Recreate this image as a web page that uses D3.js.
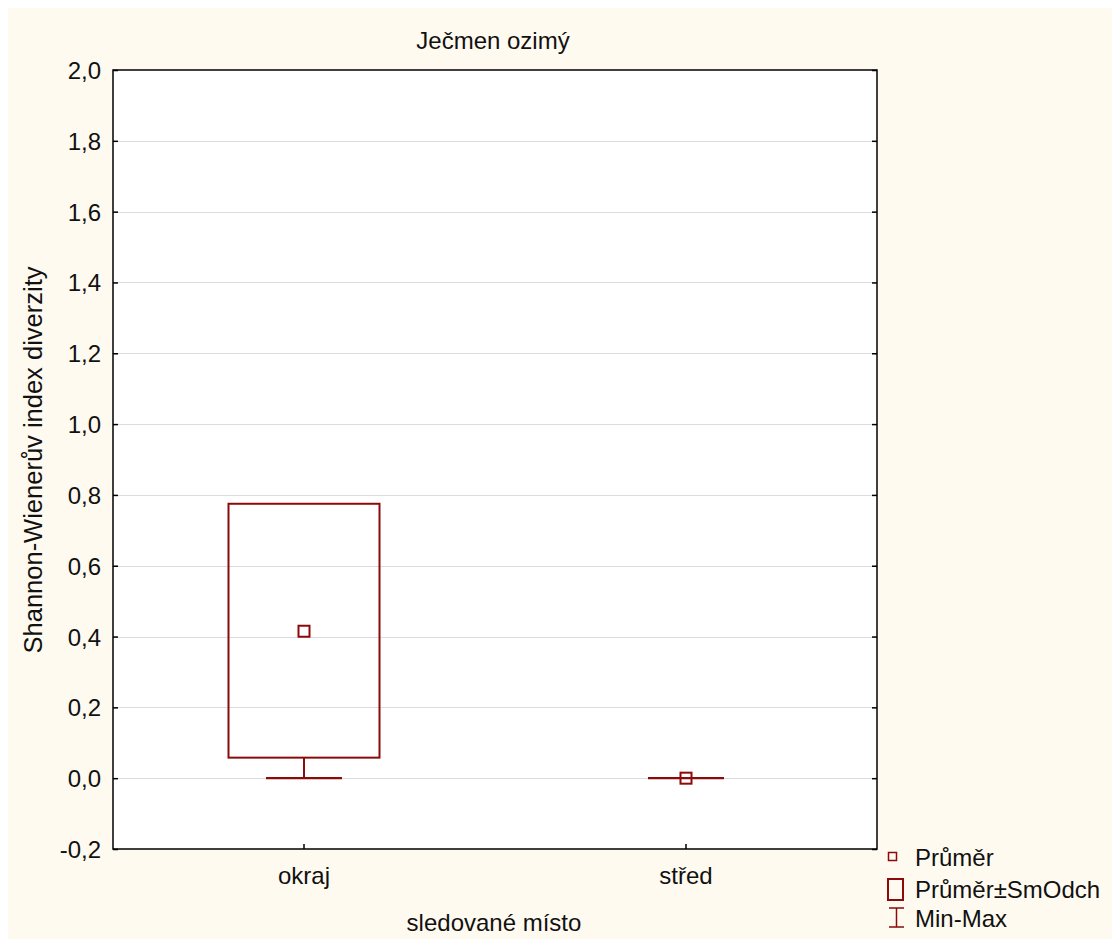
<!DOCTYPE html>
<html>
<head>
<meta charset="utf-8">
<script src="https://cdn.jsdelivr.net/npm/d3@7"></script>
<style>
  body { margin: 0; background: #fff; }
  text { font-family: "Liberation Sans", Arial, sans-serif; fill: #111; }
</style>
</head>
<body>
<div id="chart"></div>
<script>
// data
const categories = ['okraj', 'střed']
const means = [0.415, 0.0]
const sdLow = [0.058, 0.0]
const sdHigh = [0.775, 0.0]
const mins = [0.0, 0.0]
const maxs = [0.70, 0.0]
const yTicks = [-0.2, 0, 0.2, 0.4, 0.6, 0.8, 1.0, 1.2, 1.4, 1.6, 1.8, 2.0]
const legendItems = ['Průměr', 'Průměr±SmOdch', 'Min-Max']

const W = 1112, H = 939
const pLeft = 113, pRight = 877, pTop = 70, pBottom = 849
const col = '#8b0a0a'
const fs = 24

const svg = d3.select('#chart').append('svg')
  .attr('width', W).attr('height', H)

// pozadí
svg.append('rect').attr('x', 8).attr('y', 8).attr('width', W - 8).attr('height', H - 8)
  .attr('fill', '#fffaf0')
svg.append('rect').attr('x', pLeft).attr('y', pTop).attr('width', pRight - pLeft).attr('height', pBottom - pTop)
  .attr('fill', '#fff')

const x = d3.scaleBand().domain(categories).range([pLeft, pRight])
const y = d3.scaleLinear().domain([-0.2, 2.0]).range([pBottom, pTop])

// mřížka
svg.append('g').selectAll('line').data(yTicks.slice(1, -1)).join('line')
  .attr('x1', pLeft).attr('x2', pRight)
  .attr('y1', d => Math.round(y(d)) + 0.5).attr('y2', d => Math.round(y(d)) + 0.5)
  .attr('stroke', '#dcdcdc').attr('stroke-width', 1)

const fmt = d => d3.format('.1f')(d).replace('.', ',').replace('−', '-')

// osy
const yAxis = svg.append('g').attr('transform', `translate(${pLeft},0)`)
  .call(d3.axisRight(y).tickValues(yTicks).tickSize(5).tickFormat(''))
yAxis.select('.domain').remove()
yAxis.selectAll('line').attr('stroke', '#000').attr('stroke-width', 1.5)
svg.append('g').selectAll('text').data(yTicks).join('text')
  .attr('x', 101).attr('y', d => y(d) + 9)
  .attr('text-anchor', 'end').attr('font-size', fs)
  .text(fmt)

const yAxisR = svg.append('g').attr('transform', `translate(${pRight},0)`)
  .call(d3.axisLeft(y).tickValues(yTicks).tickSize(5).tickFormat(''))
yAxisR.select('.domain').remove()
yAxisR.selectAll('line').attr('stroke', '#000').attr('stroke-width', 1.5)

const xAxis = svg.append('g').attr('transform', `translate(0,${pBottom})`)
  .call(d3.axisTop(x).tickSize(5).tickFormat(''))
xAxis.select('.domain').remove()
xAxis.selectAll('line').attr('stroke', '#000').attr('stroke-width', 1.5)
svg.append('g').selectAll('text').data(categories).join('text')
  .attr('x', d => x(d) + x.bandwidth() / 2).attr('y', 884)
  .attr('text-anchor', 'middle').attr('font-size', fs)
  .text(d => d)

svg.append('rect').attr('x', pLeft).attr('y', pTop).attr('width', pRight - pLeft).attr('height', pBottom - pTop)
  .attr('fill', 'none').attr('stroke', '#000').attr('stroke-width', 1.5)

// krabice
const boxW = 151, capW = 76
categories.forEach((c, i) => {
  const cx = x(c) + x.bandwidth() / 2
  const g = svg.append('g').attr('stroke', col).attr('fill', 'none').attr('stroke-width', 2)
  if (sdHigh[i] > sdLow[i]) {
    g.append('rect').attr('x', cx - boxW / 2).attr('y', y(sdHigh[i]))
      .attr('width', boxW).attr('height', y(sdLow[i]) - y(sdHigh[i]))
  }
  // whisker dolu
  if (mins[i] < sdLow[i]) {
    g.append('line').attr('x1', cx).attr('x2', cx).attr('y1', y(sdLow[i])).attr('y2', y(mins[i]))
  }
  if (maxs[i] > sdHigh[i]) {
    g.append('line').attr('x1', cx).attr('x2', cx).attr('y1', y(sdHigh[i])).attr('y2', y(maxs[i]))
  }
  if (mins[i] < sdLow[i] || sdHigh[i] === sdLow[i]) {
    g.append('line').attr('x1', cx - capW / 2).attr('x2', cx + capW / 2)
      .attr('y1', y(mins[i])).attr('y2', y(mins[i])).attr('stroke-width', 2.2)
  }
  if (maxs[i] > sdHigh[i]) {
    g.append('line').attr('x1', cx - capW / 2).attr('x2', cx + capW / 2)
      .attr('y1', y(maxs[i])).attr('y2', y(maxs[i])).attr('stroke-width', 2.2)
  }
  g.append('rect').attr('x', cx - 5.5).attr('y', y(means[i]) - 5.5).attr('width', 11).attr('height', 11)
    .attr('stroke-width', 2)
})

// titulky
svg.append('text').attr('x', 493).attr('y', 49).attr('text-anchor', 'middle').attr('font-size', fs)
  .text('Ječmen ozimý')
svg.append('text').attr('x', 494).attr('y', 931).attr('text-anchor', 'middle').attr('font-size', fs)
  .text('sledované místo')
svg.append('text').attr('transform', `translate(42,460) rotate(-90)`)
  .attr('text-anchor', 'middle').attr('font-size', 25.5)
  .text('Shannon-Wienerův index diverzity')

// legenda
const lg = svg.append('g')
lg.append('rect').attr('x', 888.5).attr('y', 852.5).attr('width', 8).attr('height', 8)
  .attr('fill', 'none').attr('stroke', col).attr('stroke-width', 1.5)
lg.append('rect').attr('x', 888).attr('y', 879).attr('width', 15).attr('height', 21)
  .attr('fill', 'none').attr('stroke', col).attr('stroke-width', 2)
lg.append('path').attr('d', 'M889,908H904M896.5,908V927M889,927H904')
  .attr('fill', 'none').attr('stroke', col).attr('stroke-width', 1.5)
lg.selectAll('text').data(legendItems).join('text')
  .attr('x', 915).attr('y', (d, i) => [866, 898, 927][i])
  .attr('font-size', fs)
  .text(d => d)
</script>
</body>
</html>
